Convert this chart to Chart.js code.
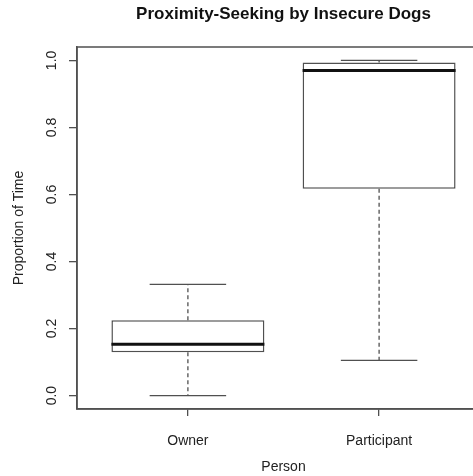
<!DOCTYPE html>
<html>
<head>
<meta charset="utf-8">
<script src="https://cdn.jsdelivr.net/npm/chart.js@4/dist/chart.umd.min.js"></script>
<style>
  html, body { margin: 0; padding: 0; background: #fff; overflow: hidden; }
  #wrap { width: 473px; height: 476px; overflow: hidden; }
  #c { display: block; }
</style>
</head>
<body>
<div id="wrap"><canvas id="c" width="490" height="476"></canvas></div>
<script>
// Box-plot summary per group
const categories = ['Owner', 'Participant'];
const lowerWhisker = [0.0, 0.105];
const lowerQuartile = [0.129, 0.617];
const medians = [0.153, 0.970];
const upperQuartile = [0.225, 0.994];
const upperWhisker = [0.332, 1.0];
const yTickValues = [0.0, 0.2, 0.4, 0.6, 0.8, 1.0];

const FONT = '"Liberation Sans", Arial, Helvetica, sans-serif';
const LINE = '#505050';
const CAP_HALF = 0.2;   // half width of whisker caps, in x units
const BOX_HALF = 0.4;   // half width of the box, in x units

const pos = categories.map((_, i) => i + 1);

const boxData = pos.map((x, i) => ({ x, y: [lowerQuartile[i], upperQuartile[i]] }));
const whiskerData = [];
const capData = [];
const medianData = [];
pos.forEach((x, i) => {
  whiskerData.push({ x, y: upperQuartile[i] }, { x, y: upperWhisker[i] }, { x, y: null });
  whiskerData.push({ x, y: lowerQuartile[i] }, { x, y: lowerWhisker[i] }, { x, y: null });
  capData.push({ x: x - CAP_HALF, y: upperWhisker[i] }, { x: x + CAP_HALF, y: upperWhisker[i] }, { x, y: null });
  capData.push({ x: x - CAP_HALF, y: lowerWhisker[i] }, { x: x + CAP_HALF, y: lowerWhisker[i] }, { x, y: null });
  medianData.push({ x: x - BOX_HALF, y: medians[i] }, { x: x + BOX_HALF, y: medians[i] }, { x, y: null });
});

const framePlugin = {
  id: 'frame',
  afterDraw(chart) {
    const { ctx, chartArea: a } = chart;
    ctx.save();
    ctx.strokeStyle = LINE;
    ctx.lineWidth = 1.5;
    ctx.strokeRect(a.left, a.top, a.right - a.left, a.bottom - a.top);
    ctx.restore();
  }
};

new Chart(document.getElementById('c'), {
  type: 'bar',
  data: {
    datasets: [
      {
        type: 'line', data: medianData, borderColor: '#111', borderWidth: 3,
        pointRadius: 0, spanGaps: false, order: 0
      },
      {
        type: 'line', data: capData, borderColor: LINE, borderWidth: 1.3,
        pointRadius: 0, spanGaps: false, order: 1
      },
      {
        type: 'line', data: whiskerData, borderColor: LINE, borderWidth: 1.3,
        borderDash: [4, 3], pointRadius: 0, spanGaps: false, order: 2
      },
      {
        type: 'bar', data: boxData, backgroundColor: '#ffffff', borderColor: LINE,
        borderWidth: 1.5, borderSkipped: false, categoryPercentage: 1.0,
        barPercentage: 0.8, order: 3
      }
    ]
  },
  options: {
    responsive: false,
    animation: false,
    layout: { padding: 0 },
    plugins: {
      legend: { display: false },
      tooltip: { enabled: false },
      title: {
        display: true,
        text: 'Proximity-Seeking by Insecure Dogs',
        fullSize: false,
        color: '#111',
        font: { family: FONT, size: 17, weight: 'bold' },
        padding: { top: 4, bottom: 22.6 }
      }
    },
    scales: {
      x: {
        type: 'linear',
        min: 0.42,
        max: 2.58,
        offset: false,
        afterBuildTicks: s => { s.ticks = pos.map(v => ({ value: v })); },
        afterFit: s => { s.height = 67; },
        ticks: {
          callback: (v, i) => categories[i],
          color: '#222',
          font: { family: FONT, size: 14 },
          padding: 17,
          maxRotation: 0,
          autoSkip: false
        },
        grid: { offset: false, drawOnChartArea: false, drawTicks: true, tickLength: 7, color: LINE, lineWidth: 1.3 },
        border: { display: true, color: LINE, width: 1.5 },
        title: {
          display: true, text: 'Person', color: '#222',
          font: { family: FONT, size: 14 }, padding: { top: 0, bottom: 0 }
        }
      },
      y: {
        type: 'linear',
        min: -0.04,
        max: 1.04,
        afterBuildTicks: s => { s.ticks = yTickValues.map(v => ({ value: v })); },
        afterFit: s => { s.width = 77; },
        ticks: {
          callback: v => Number(v).toFixed(1),
          color: '#222',
          font: { family: FONT, size: 14 },
          minRotation: 90,
          maxRotation: 90,
          crossAlign: 'center',
          padding: 7
        },
        grid: { drawOnChartArea: false, drawTicks: true, tickLength: 8, color: LINE, lineWidth: 1.3 },
        border: { display: true, color: LINE, width: 1.5 },
        title: {
          display: true, text: 'Proportion of Time', color: '#222',
          font: { family: FONT, size: 14 }, padding: { top: 10.6, bottom: 0 }
        }
      }
    }
  },
  plugins: [framePlugin]
});
</script>
</body>
</html>
